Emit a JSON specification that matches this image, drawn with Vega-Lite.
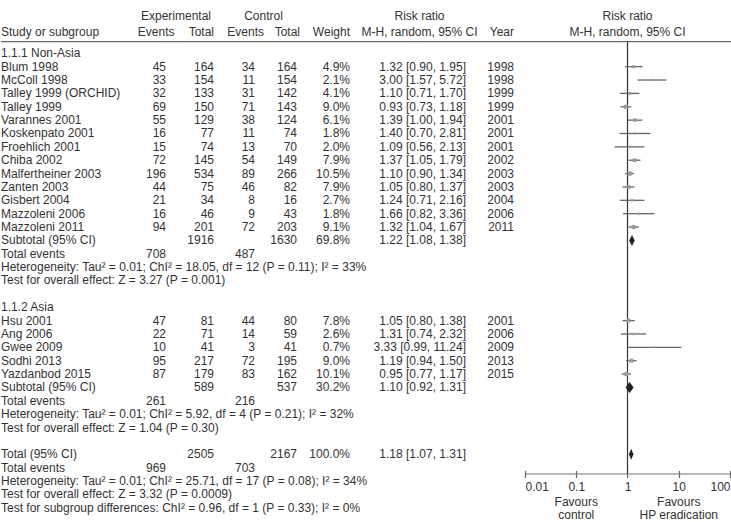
{
  "$schema": "https://vega.github.io/schema/vega-lite/v6.json",
  "padding": 0,
  "background": "white",
  "spacing": 0,
  "bounds": "flush",
  "datasets": {
    "tab": [
      {"r": -1.6, "study": "Study or subgroup", "w": "Weight", "yr": "Year"},
      {"r": 0, "study": "1.1.1 Non-Asia"},
      {"r": 1, "study": "Blum 1998", "ee": 45, "et": 164, "ce": 34, "ct": 164, "w": "4.9%", "rr": "1.32 [0.90, 1.95]", "yr": 1998, "kind": "s", "est": 1.32, "lo": 0.90, "hi": 1.95, "wt": 4.9},
      {"r": 2, "study": "McColl 1998", "ee": 33, "et": 154, "ce": 11, "ct": 154, "w": "2.1%", "rr": "3.00 [1.57, 5.72]", "yr": 1998, "kind": "s", "est": 3.00, "lo": 1.57, "hi": 5.72, "wt": 2.1},
      {"r": 3, "study": "Talley 1999 (ORCHID)", "ee": 32, "et": 133, "ce": 31, "ct": 142, "w": "4.1%", "rr": "1.10 [0.71, 1.70]", "yr": 1999, "kind": "s", "est": 1.10, "lo": 0.71, "hi": 1.70, "wt": 4.1},
      {"r": 4, "study": "Talley 1999", "ee": 69, "et": 150, "ce": 71, "ct": 143, "w": "9.0%", "rr": "0.93 [0.73, 1.18]", "yr": 1999, "kind": "s", "est": 0.93, "lo": 0.73, "hi": 1.18, "wt": 9.0},
      {"r": 5, "study": "Varannes 2001", "ee": 55, "et": 129, "ce": 38, "ct": 124, "w": "6.1%", "rr": "1.39 [1.00, 1.94]", "yr": 2001, "kind": "s", "est": 1.39, "lo": 1.00, "hi": 1.94, "wt": 6.1},
      {"r": 6, "study": "Koskenpato 2001", "ee": 16, "et": 77, "ce": 11, "ct": 74, "w": "1.8%", "rr": "1.40 [0.70, 2.81]", "yr": 2001, "kind": "s", "est": 1.40, "lo": 0.70, "hi": 2.81, "wt": 1.8},
      {"r": 7, "study": "Froehlich 2001", "ee": 15, "et": 74, "ce": 13, "ct": 70, "w": "2.0%", "rr": "1.09 [0.56, 2.13]", "yr": 2001, "kind": "s", "est": 1.09, "lo": 0.56, "hi": 2.13, "wt": 2.0},
      {"r": 8, "study": "Chiba 2002", "ee": 72, "et": 145, "ce": 54, "ct": 149, "w": "7.9%", "rr": "1.37 [1.05, 1.79]", "yr": 2002, "kind": "s", "est": 1.37, "lo": 1.05, "hi": 1.79, "wt": 7.9},
      {"r": 9, "study": "Malfertheiner 2003", "ee": 196, "et": 534, "ce": 89, "ct": 266, "w": "10.5%", "rr": "1.10 [0.90, 1.34]", "yr": 2003, "kind": "s", "est": 1.10, "lo": 0.90, "hi": 1.34, "wt": 10.5},
      {"r": 10, "study": "Zanten 2003", "ee": 44, "et": 75, "ce": 46, "ct": 82, "w": "7.9%", "rr": "1.05 [0.80, 1.37]", "yr": 2003, "kind": "s", "est": 1.05, "lo": 0.80, "hi": 1.37, "wt": 7.9},
      {"r": 11, "study": "Gisbert 2004", "ee": 21, "et": 34, "ce": 8, "ct": 16, "w": "2.7%", "rr": "1.24 [0.71, 2.16]", "yr": 2004, "kind": "s", "est": 1.24, "lo": 0.71, "hi": 2.16, "wt": 2.7},
      {"r": 12, "study": "Mazzoleni 2006", "ee": 16, "et": 46, "ce": 9, "ct": 43, "w": "1.8%", "rr": "1.66 [0.82, 3.36]", "yr": 2006, "kind": "s", "est": 1.66, "lo": 0.82, "hi": 3.36, "wt": 1.8},
      {"r": 13, "study": "Mazzoleni 2011", "ee": 94, "et": 201, "ce": 72, "ct": 203, "w": "9.1%", "rr": "1.32 [1.04, 1.67]", "yr": 2011, "kind": "s", "est": 1.32, "lo": 1.04, "hi": 1.67, "wt": 9.1},
      {"r": 14, "study": "Subtotal (95% CI)", "et": 1916, "ct": 1630, "w": "69.8%", "rr": "1.22 [1.08, 1.38]", "kind": "d", "est": 1.22, "lo": 1.08, "hi": 1.38},
      {"r": 15, "study": "Total events", "ee": 708, "ce": 487},
      {"r": 16, "study": "Heterogeneity: Tau² = 0.01; ChI² = 18.05, df = 12 (P = 0.11); I² = 33%"},
      {"r": 17, "study": "Test for overall effect: Z = 3.27 (P = 0.001)"},
      {"r": 19, "study": "1.1.2 Asia"},
      {"r": 20, "study": "Hsu 2001", "ee": 47, "et": 81, "ce": 44, "ct": 80, "w": "7.8%", "rr": "1.05 [0.80, 1.38]", "yr": 2001, "kind": "s", "est": 1.05, "lo": 0.80, "hi": 1.38, "wt": 7.8},
      {"r": 21, "study": "Ang 2006", "ee": 22, "et": 71, "ce": 14, "ct": 59, "w": "2.6%", "rr": "1.31 [0.74, 2.32]", "yr": 2006, "kind": "s", "est": 1.31, "lo": 0.74, "hi": 2.32, "wt": 2.6},
      {"r": 22, "study": "Gwee 2009", "ee": 10, "et": 41, "ce": 3, "ct": 41, "w": "0.7%", "rr": "3.33 [0.99, 11.24]", "yr": 2009, "kind": "s", "est": 3.33, "lo": 0.99, "hi": 11.24, "wt": 0.7},
      {"r": 23, "study": "Sodhi 2013", "ee": 95, "et": 217, "ce": 72, "ct": 195, "w": "9.0%", "rr": "1.19 [0.94, 1.50]", "yr": 2013, "kind": "s", "est": 1.19, "lo": 0.94, "hi": 1.50, "wt": 9.0},
      {"r": 24, "study": "Yazdanbod 2015", "ee": 87, "et": 179, "ce": 83, "ct": 162, "w": "10.1%", "rr": "0.95 [0.77, 1.17]", "yr": 2015, "kind": "s", "est": 0.95, "lo": 0.77, "hi": 1.17, "wt": 10.1},
      {"r": 25, "study": "Subtotal (95% CI)", "et": 589, "ct": 537, "w": "30.2%", "rr": "1.10 [0.92, 1.31]", "kind": "d", "est": 1.10, "lo": 0.92, "hi": 1.31},
      {"r": 26, "study": "Total events", "ee": 261, "ce": 216},
      {"r": 27, "study": "Heterogeneity: Tau² = 0.01; ChI² = 5.92, df = 4 (P = 0.21); I² = 32%"},
      {"r": 28, "study": "Test for overall effect: Z = 1.04 (P = 0.30)"},
      {"r": 30, "study": "Total (95% CI)", "et": 2505, "ct": 2167, "w": "100.0%", "rr": "1.18 [1.07, 1.31]", "kind": "d", "est": 1.18, "lo": 1.07, "hi": 1.31},
      {"r": 31, "study": "Total events", "ee": 969, "ce": 703},
      {"r": 32, "study": "Heterogeneity: Tau² = 0.01; ChI² = 25.71, df = 17 (P = 0.08); I² = 34%"},
      {"r": 33, "study": "Test for overall effect: Z = 3.32 (P = 0.0009)"},
      {"r": 34, "study": "Test for subgroup differences: ChI² = 0.96, df = 1 (P = 0.33); I² = 0%"}
    ],
    "hdr": [
      {"r": -1.6, "col": "ee", "t": "Events"},
      {"r": -1.6, "col": "et", "t": "Total"},
      {"r": -1.6, "col": "ce", "t": "Events"},
      {"r": -1.6, "col": "ct", "t": "Total"},
      {"r": -2.8, "col": "etc", "t": "Experimental"},
      {"r": -2.8, "col": "ctc", "t": "Control"},
      {"r": -2.8, "col": "rr", "t": "Risk ratio"},
      {"r": -1.6, "col": "rr", "t": "M-H, random, 95% CI"},
      {"r": -2.8, "col": "f", "t": "Risk ratio"},
      {"r": -1.6, "col": "f", "t": "M-H, random, 95% CI"}
    ],
    "fav": [
      {"x": 0.1, "t": "Favours\ncontrol"},
      {"x": 10, "t": "Favours\nHP eradication"}
    ]
  },
  "hconcat": [
    {
      "width": 130, "height": 522,
      "layer": [
        {"data": {"name": "tab"}, "transform": [{"filter": "datum.study != null"}],
         "mark": {"type": "text", "align": "left"},
         "encoding": {"x": {"value": 0}, "y": {"field": "r", "type": "quantitative", "scale": {"domain": [-3.988, 35.07], "reverse": true, "zero": false, "nice": false}, "axis": null}, "text": {"field": "study", "type": "nominal"}}},
        {"data": {"values": [{}]}, "mark": {"type": "rule", "color": "#444"}, "encoding": {"y": {"datum": -0.868}}}
      ]
    },
    {
      "width": 35, "height": 522,
      "layer": [
        {"data": {"name": "tab"}, "transform": [{"filter": "datum.ee != null"}],
         "mark": {"type": "text", "align": "right"},
         "encoding": {"x": {"value": "width"}, "y": {"field": "r", "type": "quantitative", "scale": {"domain": [-3.988, 35.07], "reverse": true, "zero": false, "nice": false}, "axis": null}, "text": {"field": "ee", "type": "nominal"}}},
        {"data": {"name": "hdr"}, "transform": [{"filter": "datum.col == 'ee'"}],
         "mark": {"type": "text", "align": "right", "dx": 8.5},
         "encoding": {"x": {"value": "width"}, "y": {"field": "r", "type": "quantitative"}, "text": {"field": "t", "type": "nominal"}}},
        {"data": {"values": [{}]}, "mark": {"type": "rule", "color": "#444"}, "encoding": {"y": {"datum": -0.868}}}
      ]
    },
    {
      "width": 48, "height": 522,
      "layer": [
        {"data": {"name": "tab"}, "transform": [{"filter": "datum.et != null"}],
         "mark": {"type": "text", "align": "right"},
         "encoding": {"x": {"value": "width"}, "y": {"field": "r", "type": "quantitative", "scale": {"domain": [-3.988, 35.07], "reverse": true, "zero": false, "nice": false}, "axis": null}, "text": {"field": "et", "type": "nominal"}}},
        {"data": {"name": "hdr"}, "transform": [{"filter": "datum.col == 'et'"}],
         "mark": {"type": "text", "align": "right"},
         "encoding": {"x": {"value": "width"}, "y": {"field": "r", "type": "quantitative"}, "text": {"field": "t", "type": "nominal"}}},
        {"data": {"name": "hdr"}, "transform": [{"filter": "datum.col == 'etc'"}],
         "mark": {"type": "text", "align": "center", "dx": 10},
         "encoding": {"x": {"value": 0}, "y": {"field": "r", "type": "quantitative"}, "text": {"field": "t", "type": "nominal"}}},
        {"data": {"values": [{}]}, "mark": {"type": "rule", "color": "#444"}, "encoding": {"y": {"datum": -0.868}}}
      ]
    },
    {
      "width": 41, "height": 522,
      "layer": [
        {"data": {"name": "tab"}, "transform": [{"filter": "datum.ce != null"}],
         "mark": {"type": "text", "align": "right"},
         "encoding": {"x": {"value": "width"}, "y": {"field": "r", "type": "quantitative", "scale": {"domain": [-3.988, 35.07], "reverse": true, "zero": false, "nice": false}, "axis": null}, "text": {"field": "ce", "type": "nominal"}}},
        {"data": {"name": "hdr"}, "transform": [{"filter": "datum.col == 'ce'"}],
         "mark": {"type": "text", "align": "right", "dx": 9},
         "encoding": {"x": {"value": "width"}, "y": {"field": "r", "type": "quantitative"}, "text": {"field": "t", "type": "nominal"}}},
        {"data": {"values": [{}]}, "mark": {"type": "rule", "color": "#444"}, "encoding": {"y": {"datum": -0.868}}}
      ]
    },
    {
      "width": 42, "height": 522,
      "layer": [
        {"data": {"name": "tab"}, "transform": [{"filter": "datum.ct != null"}],
         "mark": {"type": "text", "align": "right"},
         "encoding": {"x": {"value": "width"}, "y": {"field": "r", "type": "quantitative", "scale": {"domain": [-3.988, 35.07], "reverse": true, "zero": false, "nice": false}, "axis": null}, "text": {"field": "ct", "type": "nominal"}}},
        {"data": {"name": "hdr"}, "transform": [{"filter": "datum.col == 'ct'"}],
         "mark": {"type": "text", "align": "right", "dx": 3},
         "encoding": {"x": {"value": "width"}, "y": {"field": "r", "type": "quantitative"}, "text": {"field": "t", "type": "nominal"}}},
        {"data": {"name": "hdr"}, "transform": [{"filter": "datum.col == 'ctc'"}],
         "mark": {"type": "text", "align": "center", "dx": 8.5},
         "encoding": {"x": {"value": 0}, "y": {"field": "r", "type": "quantitative"}, "text": {"field": "t", "type": "nominal"}}},
        {"data": {"values": [{}]}, "mark": {"type": "rule", "color": "#444"}, "encoding": {"y": {"datum": -0.868}}}
      ]
    },
    {
      "width": 53, "height": 522,
      "layer": [
        {"data": {"name": "tab"}, "transform": [{"filter": "datum.w != null"}],
         "mark": {"type": "text", "align": "right"},
         "encoding": {"x": {"value": "width"}, "y": {"field": "r", "type": "quantitative", "scale": {"domain": [-3.988, 35.07], "reverse": true, "zero": false, "nice": false}, "axis": null}, "text": {"field": "w", "type": "nominal"}}},
        {"data": {"values": [{}]}, "mark": {"type": "rule", "color": "#444"}, "encoding": {"y": {"datum": -0.868}}}
      ]
    },
    {
      "width": 116, "height": 522,
      "layer": [
        {"data": {"name": "tab"}, "transform": [{"filter": "datum.rr != null"}],
         "mark": {"type": "text", "align": "right"},
         "encoding": {"x": {"value": "width"}, "y": {"field": "r", "type": "quantitative", "scale": {"domain": [-3.988, 35.07], "reverse": true, "zero": false, "nice": false}, "axis": null}, "text": {"field": "rr", "type": "nominal"}}},
        {"data": {"name": "hdr"}, "transform": [{"filter": "datum.col == 'rr'"}],
         "mark": {"type": "text", "align": "center", "dx": 69.5},
         "encoding": {"x": {"value": 0}, "y": {"field": "r", "type": "quantitative"}, "text": {"field": "t", "type": "nominal"}}},
        {"data": {"values": [{}]}, "mark": {"type": "rule", "color": "#444"}, "encoding": {"y": {"datum": -0.868}}}
      ]
    },
    {
      "width": 48, "height": 522,
      "layer": [
        {"data": {"name": "tab"}, "transform": [{"filter": "datum.yr != null"}],
         "mark": {"type": "text", "align": "right"},
         "encoding": {"x": {"value": "width"}, "y": {"field": "r", "type": "quantitative", "scale": {"domain": [-3.988, 35.07], "reverse": true, "zero": false, "nice": false}, "axis": null}, "text": {"field": "yr", "type": "nominal"}}},
        {"data": {"values": [{}]}, "mark": {"type": "rule", "color": "#444"}, "encoding": {"y": {"datum": -0.868}}}
      ]
    },
    {
      "width": 218, "height": 474,
      "layer": [
        {"data": {"values": [{}]}, "mark": {"type": "rule", "color": "#444"},
         "encoding": {"y": {"datum": -0.868, "type": "quantitative", "scale": {"domain": [-3.988, 31.478], "reverse": true, "zero": false, "nice": false}, "axis": null}}},
        {"data": {"values": [{}]}, "mark": {"type": "rule", "color": "#333", "strokeWidth": 1.2},
         "encoding": {
           "x": {"datum": 1, "type": "quantitative", "scale": {"type": "log", "domain": [0.006101, 109.4], "nice": false},
                 "axis": {"orient": "bottom", "values": [0.01, 0.1, 1, 10, 100], "labelExpr": "'' + datum.value", "domain": false, "ticks": true, "tickSize": 7, "offset": -3.5, "tickColor": "#666", "tickWidth": 1.2, "labelColor": "#333", "labelFont": "Liberation Sans", "labelFontSize": 12, "labelPadding": 4, "grid": false, "title": null, "labelFlush": false, "labelOverlap": false, "labelBound": false,
                          "labelAlign": {"condition": [{"test": "datum.value <= 0.01", "value": "left"}, {"test": "datum.value >= 100", "value": "right"}], "value": "center"}}},
           "y": {"datum": -0.868}, "y2": {"datum": 31.478}}},
        {"data": {"values": [{}]}, "mark": {"type": "rule", "color": "#777", "strokeWidth": 1.2},
         "encoding": {"x": {"datum": 0.01}, "x2": {"datum": 100}, "y": {"datum": 31.478}}},
        {"data": {"name": "tab"}, "transform": [{"filter": "datum.kind == 's'"}],
         "mark": {"type": "rule", "color": "#666", "strokeWidth": 1.3},
         "encoding": {"x": {"field": "lo", "type": "quantitative"}, "x2": {"field": "hi"}, "y": {"field": "r", "type": "quantitative"}}},
        {"data": {"name": "tab"}, "transform": [{"filter": "datum.kind == 's'"}],
         "mark": {"type": "point", "shape": "square", "filled": true, "color": "#999", "opacity": 1},
         "encoding": {"x": {"field": "est", "type": "quantitative"}, "y": {"field": "r", "type": "quantitative"},
                      "size": {"field": "wt", "type": "quantitative", "scale": {"domain": [0, 10.5], "range": [2, 18]}, "legend": null}}},
        {"data": {"name": "tab"}, "transform": [{"filter": "datum.kind == 'd'"}],
         "mark": {"type": "point", "filled": true, "color": "#222", "opacity": 1, "size": 121},
         "encoding": {"x": {"field": "est", "type": "quantitative"}, "y": {"field": "r", "type": "quantitative"},
                      "shape": {"field": "r", "type": "nominal", "scale": {"domain": [14, 25, 30], "range": ["M0,-1L0.5,0L0,1L-0.5,0Z", "M0,-1L0.72,0L0,1L-0.72,0Z", "M0,-1L0.41,0L0,1L-0.41,0Z"]}, "legend": null}}},
        {"data": {"name": "hdr"}, "transform": [{"filter": "datum.col == 'f'"}],
         "mark": {"type": "text", "align": "center"},
         "encoding": {"x": {"datum": 1}, "y": {"field": "r", "type": "quantitative"}, "text": {"field": "t", "type": "nominal"}}},
        {"data": {"name": "fav"},
         "mark": {"type": "text", "align": "center", "baseline": "middle", "lineBreak": "\n", "lineHeight": 13},
         "encoding": {"x": {"field": "x", "type": "quantitative"}, "y": {"datum": 33.57}, "text": {"field": "t", "type": "nominal"}}}
      ]
    }
  ],
  "config": {
    "view": {"stroke": null},
    "text": {"font": "Liberation Sans", "fontSize": 12, "color": "#333"},
    "rule": {"strokeCap": "butt"}
  }
}
